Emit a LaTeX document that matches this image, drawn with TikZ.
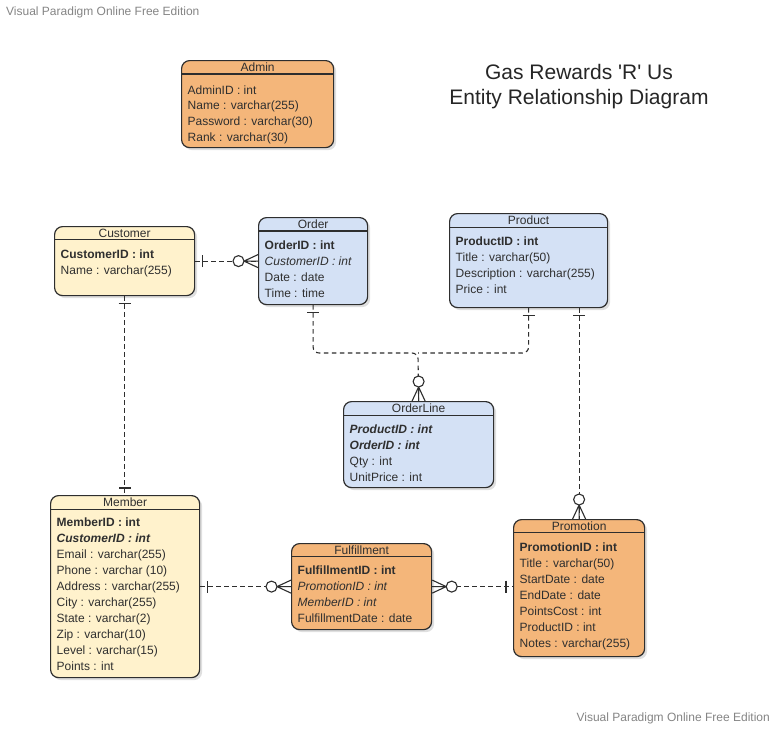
\documentclass[tikz,border=0pt]{standalone}
\usepackage{fontspec}
\setmainfont{Liberation Sans}
\newfontfamily\titlefont{Liberation Sans}
\usetikzlibrary{shadows}
\definecolor{eorange}{HTML}{F4B67A}
\definecolor{eyellow}{HTML}{FFF2CC}
\definecolor{eblue}{HTML}{D4E1F5}
\definecolor{edgec}{HTML}{2E2E2E}
\definecolor{etext}{HTML}{2F2F2F}
\definecolor{wmgray}{HTML}{858585}
\newcommand{\entity}[8]{%
  \node[ebox, fill=#6, minimum width=#4pt, minimum height=#5pt, anchor=north west] (#1) at (#2,#3) {};
  \draw[hdr] ([yshift=-#8pt]#1.north west) -- ([yshift=-#8pt]#1.north east);
  \node[etitle] (#1-title) at ([yshift=-#8pt/2]#1.north) {#7};%
}
\newcommand{\erow}[4]{\node[erowtext] (#1) at ([xshift=6.5pt]#2.west |- 0,#3) {#4};}
\newcommand{\erOne}[2]{\begin{scope}[shift={#1},rotate=#2]\draw[mark line] (7pt,-6pt) -- (7pt,6pt);\end{scope}}
\newcommand{\erZeroMany}[2]{\begin{scope}[shift={#1},rotate=#2]
  \draw[mark line] (0pt,-6.5pt) -- (14pt,0pt) -- (0pt,6.5pt) (0pt,0pt) -- (14pt,0pt);
  \draw[mark line,fill=white] (19.5pt,0pt) circle (5.5pt);\end{scope}}
\begin{document}
\begin{tikzpicture}[x=1pt,y=-1pt,
  ebox/.style={draw=edgec, line width=1.2pt, rounded corners=8pt, inner sep=0pt,
    drop shadow={opacity=0.25, shadow xshift=2.5pt, shadow yshift=-2.5pt}},
  hdr/.style={draw=edgec, line width=1.1pt},
  etitle/.style={inner sep=0pt, font=\fontsize{12}{14}\selectfont, text=etext, text height=8.6pt, text depth=0pt},
  erowtext/.style={anchor=west, inner sep=0pt, font=\fontsize{12}{14}\selectfont, text=etext, text height=8.6pt, text depth=0pt},
  conn/.style={draw=edgec, line width=1.1pt, dash pattern=on 4.5pt off 3.5pt},
  mark line/.style={draw=edgec, line width=1.1pt, solid},
  wm/.style={inner sep=0pt, font=\fontsize{12}{14}\selectfont, text=wmgray}]
\useasboundingbox (0,0) rectangle (781,734);
\fill[white] (0,0) rectangle (781,734);

% watermarks
\node[wm, anchor=west] (wmtop) at (6,12) {Visual Paradigm Online Free Edition};
\node[wm, anchor=east] (wmbot) at (770,718) {Visual Paradigm Online Free Edition};

% title
\node[inner sep=0pt, align=center, font=\titlefont\fontsize{21}{25}\selectfont, text=black!85] (title) at (579,87) {Gas Rewards 'R' Us\\Entity Relationship Diagram};

% Admin
\entity{admin}{181}{60}{152}{87}{eorange}{Admin}{14}
\erow{admin1}{admin}{90}{AdminID : int}
\erow{admin2}{admin}{105.5}{Name : varchar(255)}
\erow{admin3}{admin}{121.5}{Password : varchar(30)}
\erow{admin4}{admin}{137.5}{Rank : varchar(30)}

% Customer
\entity{customer}{54}{226}{140}{69}{eyellow}{Customer}{13.5}
\erow{cust1}{customer}{254}{\textbf{CustomerID : int}}
\erow{cust2}{customer}{270.5}{Name : varchar(255)}

% Order
\entity{order}{258}{217}{109}{87}{eblue}{Order}{14}
\erow{ord1}{order}{245.5}{\textbf{OrderID : int}}
\erow{ord2}{order}{261.5}{\textit{CustomerID : int}}
\erow{ord3}{order}{277.5}{Date : date}
\erow{ord4}{order}{293.5}{Time : time}

% Product
\entity{product}{449}{213}{158}{94}{eblue}{Product}{14.5}
\erow{prod1}{product}{241.5}{\textbf{ProductID : int}}
\erow{prod2}{product}{257.5}{Title : varchar(50)}
\erow{prod3}{product}{273}{Description : varchar(255)}
\erow{prod4}{product}{289}{Price : int}

% OrderLine
\entity{orderline}{343}{401}{150}{86}{eblue}{OrderLine}{14.5}
\erow{ol1}{orderline}{429}{\textbf{\textit{ProductID : int}}}
\erow{ol2}{orderline}{445}{\textbf{\textit{OrderID : int}}}
\erow{ol3}{orderline}{461.5}{Qty : int}
\erow{ol4}{orderline}{477.5}{UnitPrice : int}

% Member
\entity{member}{50}{495}{149}{182}{eyellow}{Member}{14.5}
\erow{mem1}{member}{522.5}{\textbf{MemberID : int}}
\erow{mem2}{member}{538.5}{\textbf{\textit{CustomerID : int}}}
\erow{mem3}{member}{554.5}{Email : varchar(255)}
\erow{mem4}{member}{570.5}{Phone : varchar (10)}
\erow{mem5}{member}{586.5}{Address : varchar(255)}
\erow{mem6}{member}{602.5}{City : varchar(255)}
\erow{mem7}{member}{618.5}{State : varchar(2)}
\erow{mem8}{member}{634.5}{Zip : varchar(10)}
\erow{mem9}{member}{650.5}{Level : varchar(15)}
\erow{mem10}{member}{666.5}{Points : int}

% Fulfillment
\entity{fulfill}{291}{543}{140}{86}{eorange}{Fulfillment}{13.5}
\erow{ful1}{fulfill}{570.5}{\textbf{FulfillmentID : int}}
\erow{ful2}{fulfill}{586.5}{\textit{PromotionID : int}}
\erow{ful3}{fulfill}{602.5}{\textit{MemberID : int}}
\erow{ful4}{fulfill}{618.5}{FulfillmentDate : date}

% Promotion
\entity{promo}{513}{519}{131}{137}{eorange}{Promotion}{13.5}
\erow{pr1}{promo}{547}{\textbf{PromotionID : int}}
\erow{pr2}{promo}{563}{Title : varchar(50)}
\erow{pr3}{promo}{579}{StartDate : date}
\erow{pr4}{promo}{595}{EndDate : date}
\erow{pr5}{promo}{611}{PointsCost : int}
\erow{pr6}{promo}{627}{ProductID : int}
\erow{pr7}{promo}{643}{Notes : varchar(255)}

% connector points
\coordinate (jn) at (418,353);
\coordinate (prodB) at (product.south -| promo.north);
\coordinate (memT) at (customer.south |- member.north);
\coordinate (ordW) at (order.west |- customer.east);
\coordinate (promW) at (promo.west |- fulfill.east);

% connectors
\draw[conn] (customer.east) -- (ordW);
\draw[conn] (customer.south) -- (memT);
\draw[conn, rounded corners=6pt] (order.south) |- (jn) -- (orderline.north);
\draw[conn, rounded corners=6pt] (product.south) |- (jn);
\draw[conn] (prodB) -- (promo.north);
\draw[conn] (member.east) -- (fulfill.west);
\draw[conn] (fulfill.east) -- (promW);

% markers
\erOne{(customer.east)}{0}
\erZeroMany{(ordW)}{180}
\erOne{(customer.south)}{270}
\erOne{(memT)}{90}
\erOne{(order.south)}{270}
\erZeroMany{(orderline.north)}{90}
\erOne{(product.south)}{270}
\erOne{(prodB)}{270}
\erZeroMany{(promo.north)}{90}
\erOne{(member.east)}{0}
\erZeroMany{(fulfill.west)}{180}
\erZeroMany{(fulfill.east)}{0}
\erOne{(promW)}{180}
\end{tikzpicture}
\end{document}
